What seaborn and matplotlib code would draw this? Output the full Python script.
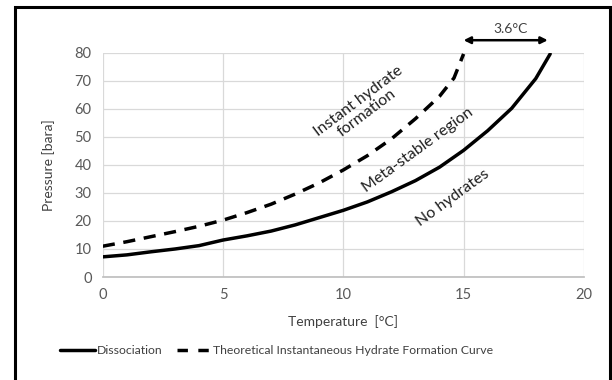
import matplotlib
matplotlib.use("Agg")
import matplotlib.pyplot as plt
import seaborn as sns
import pandas as pd
from matplotlib.patches import Rectangle
from matplotlib.lines import Line2D

# Data
diss_T = [0, 1, 2, 3, 4, 5, 6, 7, 8, 9, 10, 11, 12, 13, 14, 15, 16, 17, 18, 18.6]
diss_P = [7.2, 7.9, 9.0, 10.0, 11.2, 13.2, 14.7, 16.4, 18.6, 21.2, 23.8, 26.8, 30.4, 34.4, 39.2, 45.2, 52.2, 60.2, 70.8, 79.6]

theo_T = [0, 1, 2, 3, 4, 5, 6, 7, 8, 9, 10, 11, 12, 13, 14, 14.6, 15.0]
theo_P = [11.0, 12.6, 14.4, 16.2, 18.1, 20.3, 23.0, 26.0, 29.6, 33.6, 38.2, 43.3, 49.3, 56.5, 64.5, 71.0, 79.6]

x_ticks = [0, 5, 10, 15, 20]
y_ticks = [0, 10, 20, 30, 40, 50, 60, 70, 80]

df = pd.concat([
    pd.DataFrame({"T": diss_T, "P": diss_P, "series": "Dissociation"}),
    pd.DataFrame({"T": theo_T, "P": theo_P, "series": "Theoretical Instantaneous Hydrate Formation Curve"}),
])

sns.set_theme(style="white")
plt.rcParams['font.family'] = ['Lato', 'DejaVu Sans']

fig = plt.figure(figsize=(6.12, 3.80), dpi=100)
ax = fig.add_axes([0.168, 0.271, 0.786, 0.590])

sns.lineplot(data=df, x="T", y="P", hue="series", style="series",
             palette=["black", "black"], dashes=[(None, None), (3.5, 2.5)],
             linewidth=2.5, ax=ax, sort=False, legend=False)

ax.set_xlim(0, 20)
ax.set_ylim(0, 80)
ax.set_xticks(x_ticks)
ax.set_yticks(y_ticks)
ax.grid(True, color="#d9d9d9", linewidth=0.9)
for s in ax.spines.values():
    s.set_visible(False)
ax.spines['bottom'].set_visible(True)
ax.spines['bottom'].set_color("#bfbfbf")
ax.tick_params(axis='both', length=0, labelsize=10.5, colors="#595959", pad=8)
ax.set_xlabel("Temperature  [°C]", fontsize=10, color="#404040", labelpad=9)
ax.set_ylabel("Pressure [bara]", fontsize=10, color="#404040", labelpad=14)

# Region annotations
ax.text(10.8, 60.7, "Instant hydrate\nformation", rotation=37, ha="center", va="center",
        fontsize=11.5, color="#202020", linespacing=1.05)
ax.text(13.1, 45.4, "Meta-stable region", rotation=36, ha="center", va="center",
        fontsize=11.5, color="#202020")
ax.text(14.55, 28.2, "No hydrates", rotation=36, ha="center", va="center",
        fontsize=11.5, color="#202020")

# 3.6 °C arrow
ax.annotate("", xy=(18.5, 84.5), xytext=(15.0, 84.5),
            arrowprops=dict(arrowstyle="<|-|>", color="black", lw=1.8,
                            mutation_scale=10, shrinkA=0, shrinkB=0),
            annotation_clip=False)
ax.text(16.95, 86.5, "3.6°C", ha="center", va="bottom", fontsize=10,
        color="#404040", clip_on=False)

# Legend
handles = [Line2D([], [], color="black", lw=2.5),
           Line2D([], [], color="black", lw=2.5, dashes=(3.0, 3.0))]
fig.legend(handles, ["Dissociation", "Theoretical Instantaneous Hydrate Formation Curve"],
           loc="center", bbox_to_anchor=(0.452, 0.077), ncol=2, frameon=False,
           fontsize=8.8, handlelength=2.9, columnspacing=1.2, handletextpad=0.1,
           labelcolor="#404040")

# Outer frame
fig.patches.append(Rectangle((0.024, -0.05), 0.972, 1.031, transform=fig.transFigure,
                             fill=False, edgecolor="black", lw=2.2))

fig.savefig("out.png", dpi=100)
